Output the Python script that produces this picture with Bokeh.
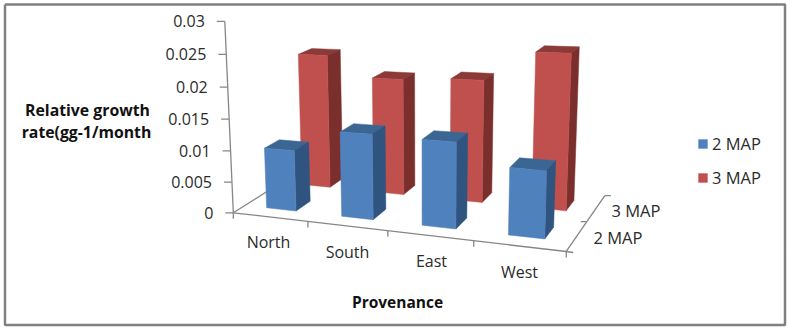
import numpy as np
from bokeh.plotting import figure
from bokeh.models import Range1d, Legend, LegendItem
from bokeh.core.properties import value
from bokeh.embed import file_html
from bokeh.resources import INLINE

categories = ["North", "South", "East", "West"]
series_names = ["2 MAP", "3 MAP"]
map2_values = [0.0097, 0.0132, 0.0130, 0.0099]
map3_values = [0.0220, 0.0187, 0.0192, 0.0238]
z_tick_labels = ["0", "0.005", "0.01", "0.015", "0.02", "0.025", "0.03"]
z_ticks = [0, 0.005, 0.01, 0.015, 0.02, 0.025, 0.03]

W, H = 787, 330
FONT = "Open Sans"
AXIS = "#868686"
TXT = "#2b2b2b"
FRONT = {"2 MAP": "#4f81bd", "3 MAP": "#c0504d"}
SIDE = {"2 MAP": "#2f547f", "3 MAP": "#7b2f2d"}
TOP = {"2 MAP": "#3b6694", "3 MAP": "#8c3a38"}

# perspective camera: model (category, depth, value) -> page pixels, solved from axis and bar-foot readings
BW = 0.4
calib = [
    (0, 0, 0, 231, 209), (1, 0, 0, 307, 222), (2, 0, 0, 388, 233), (3, 0, 0, 474, 242), (4, 0, 0, 565, 251),
    (4, 1, 0, 587, 222), (4, 2, 0, 602, 197),
    (0, 0, .005, 230, 181), (0, 0, .01, 229, 152), (0, 0, .02, 226, 90), (0, 0, .03, 223, 28),
    (.3, .3, 0, 266, 206), (.7, .3, 0, 297, 209), (.7, .7, 0, 309, 200),
    (1.3, .3, 0, 343, 215), (1.7, .3, 0, 373, 218), (1.7, .7, 0, 385, 208),
    (2.3, .3, 0, 423, 224), (2.7, .3, 0, 456, 228), (2.7, .7, 0, 467, 219),
    (3.3, .3, 0, 508, 234), (3.7, .3, 0, 544, 238), (3.7, .7, 0, 552, 228),
    (.7, 1.3, 0, 330, 186), (.7, 1.7, 0, 342, 177),
    (1.7, 1.3, 0, 404, 194), (1.7, 1.7, 0, 415, 186),
    (2.7, 1.3, 0, 483, 203), (2.7, 1.7, 0, 492, 195),
    (3.7, 1.3, 0, 564, 211), (3.7, 1.7, 0, 571, 203),
    (.3, .3, .0095, 263, 148), (3.7, .3, .0095, 546, 170),
    (1.7, .3, .0128, 374, 134), (2.7, .3, .0126, 457, 142),
    (.7, 1.3, .0215, 328, 56), (3.7, 1.3, .0232, 570, 53),
    (1.7, 1.3, .0185, 404, 79), (2.7, 1.3, .019, 484, 79),
]
A, b = [], []
for x, d, z, u, v in calib:
    z = z * 100
    A.append([x, d, z, 1, 0, 0, 0, 0, -u * x, -u * d, -u * z]); b.append(u)
    A.append([0, 0, 0, 0, x, d, z, 1, -v * x, -v * d, -v * z]); b.append(v)
P = np.linalg.lstsq(np.array(A, float), np.array(b, float), rcond=None)[0]
P = np.append(P, 1.0).reshape(3, 4)


def proj(x, d, z):
    h = P @ np.array([x, d, z * 100, 1.0])
    return h[0] / h[2], h[1] / h[2]


def poly(points):
    q = [proj(*t) for t in points]
    return [a for a, _ in q], [c for _, c in q]


p = figure(width=W, height=H, x_range=Range1d(0, W), y_range=Range1d(H, 0),
           output_backend="svg", toolbar_location=None, min_border=0,
           background_fill_color="white", border_fill_color="white",
           styles={"position": "absolute", "left": "0px", "top": "0px"})
p.axis.visible = False
p.grid.visible = False
p.outline_line_color = None

# outer frame
p.line([4.5, 784.5, 784.5, 4.5, 4.5], [4, 4, 324.5, 324.5, 4], line_color="#808080", line_width=2.5)


def seg(a, b_, color=AXIS, width=1.3):
    (x0, y0), (x1, y1) = a, b_
    p.line([x0, x1], [y0, y1], line_color=color, line_width=width)


# axis skeleton
o = proj(0, 0, 0)
seg(o, proj(0, 0, 0.03))
seg(o, proj(4, 0, 0))
seg(proj(4, 0, 0), proj(4, 2, 0))
seg(o, proj(0, 2, 0))
for t in z_ticks:
    a = proj(0, 0, t)
    seg((a[0] - 8, a[1]), a)
for i in range(5):
    a = proj(i, 0, 0)
    seg(a, (a[0], a[1] + 6))
for j in range(3):
    a = proj(4, j, 0)
    if j == 0:
        seg((a[0] - 0, a[1]), (a[0] + 7, a[1] + 1))
    else:
        seg((a[0] - 6 if j == 1 else a[0], a[1]), (a[0] if j == 1 else a[0] + 6, a[1]))


def boxes(vals, d0, name):
    fx, fy, sx, sy, tx, ty = [], [], [], [], [], []
    d1 = d0 + BW
    for i, val in enumerate(vals):
        x0, x1 = i + .5 - BW / 2, i + .5 + BW / 2
        a, c = poly([(x0, d0, 0), (x1, d0, 0), (x1, d0, val), (x0, d0, val)]); fx.append(a); fy.append(c)
        a, c = poly([(x1, d0, 0), (x1, d1, 0), (x1, d1, val), (x1, d0, val)]); sx.append(a); sy.append(c)
        a, c = poly([(x0, d0, val), (x1, d0, val), (x1, d1, val), (x0, d1, val)]); tx.append(a); ty.append(c)
    p.patches(tx, ty, fill_color=TOP[name], line_color=TOP[name], line_width=0.5)
    p.patches(sx, sy, fill_color=SIDE[name], line_color=SIDE[name], line_width=0.5)
    return p.patches(fx, fy, fill_color=FRONT[name], line_color=FRONT[name], line_width=0.5)


r3 = boxes(map3_values, 1.3, "3 MAP")
r2 = boxes(map2_values, 0.3, "2 MAP")

# value tick labels
lx, ly = [], []
for t in z_ticks:
    a = proj(0, 0, t)
    lx.append(a[0] - 20); ly.append(a[1])
p.text(lx, ly, text=z_tick_labels, text_align="right", text_baseline="middle",
       text_font=value(FONT), text_font_size="16px", text_color=TXT)

# category labels
cat_x = [268, 347, 431, 519]
cat_y = [241, 251, 260, 271]
p.text(cat_x, cat_y, text=categories, text_align="center", text_baseline="middle",
       text_font=value(FONT), text_font_size="16px", text_color=TXT)

# depth labels
p.text([593, 611], [237, 210], text=series_names, text_align="left", text_baseline="middle",
       text_font=value(FONT), text_font_size="16.5px", text_color=TXT)

# axis titles
p.text([87, 86], [109, 131], text=["Relative growth", "rate(gg-1/month"], text_align="center",
       text_baseline="middle", text_font=value(FONT), text_font_style="bold",
       text_font_size="15.8px", text_color="#111111")
p.text([397], [301], text=["Provenance"], text_align="center", text_baseline="middle",
       text_font=value(FONT), text_font_style="bold", text_font_size="15.5px", text_color="#111111")

legend = Legend(items=[LegendItem(label=series_names[0], renderers=[r2]),
                       LegendItem(label=series_names[1], renderers=[r3])],
                location=(689, 133), orientation="vertical", background_fill_alpha=0, border_line_alpha=0,
                glyph_width=11, glyph_height=11, spacing=11, margin=0, padding=8, label_standoff=4,
                label_text_font=FONT, label_text_font_size="16.5px", label_text_color=TXT)
p.add_layout(legend, "center")

open("out.html", "w").write(file_html(p, INLINE))
